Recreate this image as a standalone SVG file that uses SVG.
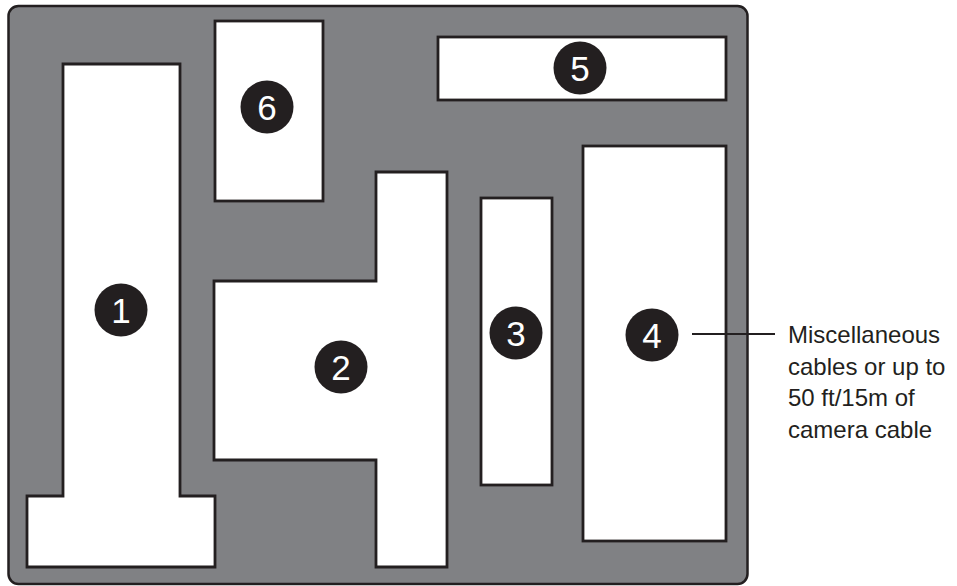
<svg xmlns="http://www.w3.org/2000/svg" width="957" height="586" viewBox="0 0 957 586">
<style>
.case{fill:#808184;stroke:#231f20;stroke-width:2.5}
.slot{fill:#ffffff;stroke:#231f20;stroke-width:2.8;stroke-linejoin:miter}
.badge{fill:#231f20}
.num{fill:#ffffff;font-family:"Liberation Sans",Arial,sans-serif;font-size:35px;text-anchor:middle}
.lbl{fill:#231f20;font-family:"Liberation Sans",Arial,sans-serif;font-size:24px}
.lead{stroke:#231f20;stroke-width:2;fill:none}
</style>
<rect class="case" x="8.5" y="6" width="739" height="578" rx="10" ry="10"/>
<g id="node1">
<path class="slot" d="M63,64 H180 V496 H215 V567 H27 V496 H63 Z"/>
<circle class="badge" cx="121" cy="310" r="26.5"/>
<text class="num" x="121" y="322.5">1</text>
</g>
<g id="node2">
<path class="slot" d="M376,172 H447 V567 H376 V460 H214 V281 H376 Z"/>
<circle class="badge" cx="341" cy="367" r="26.5"/>
<text class="num" x="341" y="379.5">2</text>
</g>
<g id="node3">
<rect class="slot" x="481" y="198" width="71" height="287"/>
<circle class="badge" cx="516" cy="333" r="26.5"/>
<text class="num" x="516" y="345.5">3</text>
</g>
<g id="node4">
<rect class="slot" x="583" y="146" width="143" height="395"/>
<circle class="badge" cx="652" cy="335" r="26.5"/>
<text class="num" x="652" y="347.5">4</text>
</g>
<g id="node5">
<rect class="slot" x="438" y="37" width="288" height="63"/>
<circle class="badge" cx="580" cy="68" r="26.5"/>
<text class="num" x="580" y="80.5">5</text>
</g>
<g id="node6">
<rect class="slot" x="215" y="21" width="108" height="180"/>
<circle class="badge" cx="267" cy="107" r="26.5"/>
<text class="num" x="267" y="119.5">6</text>
</g>
<g id="connectors">
<line class="lead" x1="692" y1="334" x2="775" y2="334"/>
</g>
<g id="label">
<text class="lbl" x="788" y="343">Miscellaneous</text>
<text class="lbl" x="788" y="375">cables or up to</text>
<text class="lbl" x="788" y="406">50 ft/15m of</text>
<text class="lbl" x="788" y="438">camera cable</text>
</g>
</svg>
